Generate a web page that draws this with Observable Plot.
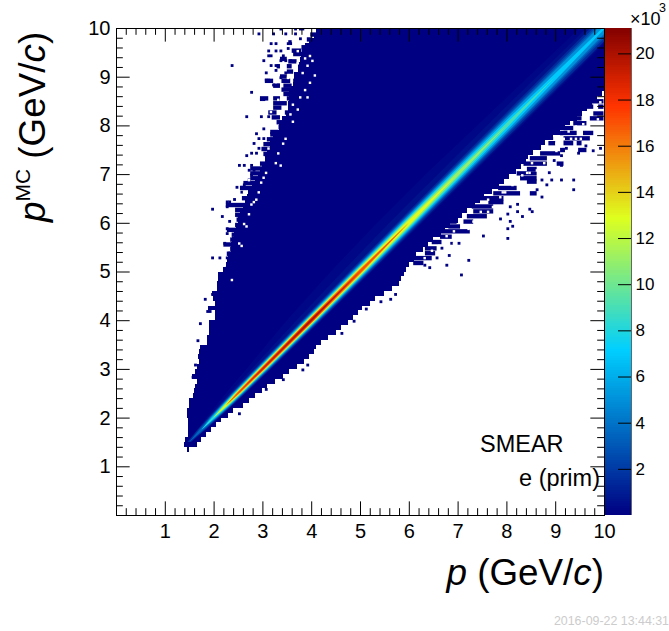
<!DOCTYPE html>
<html>
<head>
<meta charset="utf-8">
<script src="https://cdn.jsdelivr.net/npm/d3@7"></script>
<script src="https://cdn.jsdelivr.net/npm/@observablehq/plot@0.6"></script>
<style>
html,body{margin:0;padding:0;background:#fff}
#page{position:relative;width:669px;height:631px;overflow:hidden;font-family:"Liberation Sans",Arial,sans-serif;color:#000}
#page svg{position:absolute;top:0;background:transparent}
.t{position:absolute;white-space:nowrap;line-height:1}
</style>
</head>
<body>
<div id="page"></div>
<script>
// Populated envelope, one row per 0.1 GeV/c of pMC
const envMC = [1.3,1.4,1.5,1.6,1.7,1.8,1.9,2.0,2.1,2.2,2.3,2.4,2.5,2.6,2.7,2.8,2.9,3.0,3.1,3.2,3.3,3.4,3.5,3.6,3.7,3.8,3.9,4.0,4.1,4.2,4.3,4.4,4.5,4.6,4.7,4.8,4.9,5.0,5.1,5.2,5.3,5.4,5.5,5.6,5.7,5.8,5.9,6.0,6.1,6.2,6.3,6.4,6.5,6.6,6.7,6.8,6.9,7.0,7.1,7.2,7.3,7.4,7.5,7.6,7.7,7.8,7.9,8.0,8.1,8.2,8.3,8.4,8.5,8.6,8.7,8.8,8.9,9.0,9.1,9.2,9.3,9.4,9.5,9.6,9.7,9.8,9.9];
const envLeft = [1.45,1.40,1.42,1.47,1.47,1.47,1.47,1.45,1.45,1.50,1.50,1.58,1.60,1.62,1.65,1.55,1.62,1.65,1.71,1.69,1.70,1.72,1.86,1.87,1.90,1.91,1.91,2.03,2.03,1.89,2.03,1.98,1.96,2.06,2.06,2.10,2.10,2.20,2.25,2.28,2.30,2.35,2.35,2.38,2.42,2.42,2.45,2.50,2.50,2.55,2.60,2.65,2.68,2.70,2.78,2.85,2.90,2.95,3.00,3.05,3.05,3.10,3.15,3.15,3.22,3.28,3.35,3.35,3.40,3.48,3.52,3.52,3.55,3.55,3.58,3.62,3.65,3.65,3.72,3.72,3.78,3.80,3.82,3.88,3.95,4.05,4.10];
const envRight = [1.50,1.65,1.75,1.85,1.95,2.05,2.15,2.30,2.40,2.60,2.72,2.85,3.00,3.10,3.25,3.42,3.55,3.70,3.85,3.95,4.05,4.10,4.20,4.35,4.50,4.62,4.75,4.85,4.95,5.05,5.20,5.30,5.50,5.65,5.80,5.85,5.90,5.95,6.00,6.10,6.15,6.30,6.40,6.50,6.65,6.75,6.85,7.00,7.10,7.20,7.35,7.45,7.55,7.70,7.85,7.95,8.05,8.20,8.30,8.40,8.45,8.55,8.70,8.80,8.95,9.10,9.20,9.30,9.45,9.55,9.65,9.75,9.85,9.95,10,10,10,10,10,10,10,10,10,10,10,10,10];

// Runs of filled bins in the fringe: row pMC, run start p, run end p
const runMC = [9.95,9.95,9.87,9.87,9.82,9.72,9.66,9.66,9.56,9.49,9.49,9.42,9.32,9.32,9.27,9.17,9.17,9.17,9.06,9.06,8.96,8.96,8.87,8.87,8.87,8.77,8.77,8.69,8.6,8.51,8.51,8.51,8.41,8.32,8.32,8.22,8.22,8.12,8.02,7.92,7.82,7.77,7.67,7.57,7.47,7.37,7.27,7.17,7.07,6.97,6.87,6.77,6.67,6.56,6.46,6.32,6.22,6.12,6.02,5.91,5.81,5.71,5.61,5.51,5.42,5.32,5.22,
  8.45,8.34,8.34,8.2,8.1,8.1,8.0,7.9,7.8,7.8,7.69,7.59,7.59,7.59,7.45,7.45,7.38,7.28,7.17,7.17,7.06,6.97,6.87,6.8,6.67,6.56,6.56,6.46,6.38,6.29,6.19,6.09,5.98,5.98,5.88,5.78,5.67,5.56,5.43,5.33,5.23,5.13];
const runFrom = [4.15,4.45,4.11,4.32,3.98,3.91,3.53,3.98,3.8,3.6,3.98,3.63,3.36,3.84,3.53,3.29,3.5,3.84,3.5,3.77,3.36,3.67,3.05,3.39,3.63,3.22,3.43,3.39,3.43,2.95,3.22,3.5,3.22,3.22,3.6,3.12,3.46,3.19,3.29,3.33,3.16,3.16,3.09,3.02,2.98,3.02,3.09,2.95,2.75,2.75,2.75,2.61,2.54,2.78,2.58,2.25,2.44,2.44,2.47,2.44,2.27,2.37,2.34,2.2,2.34,2.27,2.3,
  9.71,9.64,9.88,9.78,9.3,9.71,9.37,9.17,9.1,9.57,9.17,8.86,9.17,9.44,9.1,9.47,8.69,8.48,8.35,9.03,8.42,8.21,8.28,8.42,7.83,7.73,8.48,7.39,7.63,7.29,7.32,7.19,6.74,7.12,6.81,6.64,6.64,6.47,6.33,6.33,6.09,6.09];
const runTo = [4.35,4.62,4.25,4.42,4.11,4.01,3.6,4.25,4.08,3.8,4.18,3.91,3.5,4.04,3.7,3.36,3.6,4.04,3.63,3.91,3.5,3.8,3.22,3.57,3.84,3.36,3.6,3.6,3.7,3.12,3.36,3.63,3.5,3.39,3.74,3.29,3.6,3.36,3.5,3.5,3.33,3.57,3.36,3.26,3.22,3.16,3.26,3.22,3.16,3.09,3.02,2.95,2.81,2.88,2.92,2.88,2.71,2.81,2.61,2.81,2.47,2.71,2.61,2.4,2.61,2.47,2.47,
  9.99,9.78,9.99,9.99,9.54,9.99,9.64,9.37,9.44,9.78,9.71,9.0,9.37,9.54,9.2,9.64,9.1,8.83,8.83,9.17,8.62,8.62,8.62,8.62,8.21,8.28,8.62,7.94,7.94,7.73,7.73,7.6,6.98,7.32,7.05,7.25,6.88,6.67,6.57,6.54,6.47,6.3];

// Isolated filled bins outside the envelope (lower bin edges)
const dotP = [3.35,3.65,3.75,3.8,2.9,3.2,3.45,3.65,3.75,3.15,3.25,3.5,3.55,3.5,3.1,3.25,3.35,3.1,3.15,3.4,3.0,3.35,3.45,3.55,2.35,3.15,3.25,3.25,3.05,3.45,3.35,3.05,3.1,3.2,3.3,2.75,2.95,3.0,2.65,2.95,3.1,3.0,2.85,2.9,3.0,2.8,3.05,2.9,3.0,2.75,2.85,2.65,3.05,2.5,2.6,2.75,2.7,2.8,2.75,2.7,2.6,2.45,2.55,2.55,2.4,2.25,2.3,2.25,1.95,2.15,2.3,2.25,2.25,2.2,2.35,2.3,1.95,2.1,2.25,2.25,1.8,1.7,1.9,1.85,1.65,1.95,2.1,1.55,1.5,1.75,1.6,
  2.5,3.05,3.8,3.9,3.4,4.6,4.85,5.1,5.6,5.7,5.4,8.0,7.5,8.1,8.0,8.05,7.85,8.3,8.2,8.0,8.05,8.2,8.45,8.5,8.7,9.35,8.6,9.35,9.1,8.9,8.8,8.7,8.85,9.9,9.75,9.6,9.45,9.2,9.1,8.95,9.1,7.2,6.75,6.8,7.0,6.85,6.65,6.55,6.4,6.3,7.05,9.5,9.45,9.1,8.9,8.65];
const dotMC = [9.95,9.95,9.95,9.95,9.85,9.85,9.85,9.85,9.75,9.65,9.65,9.65,9.65,9.55,9.5,9.5,9.5,9.4,9.4,9.4,9.3,9.3,9.3,9.3,9.2,9.2,9.2,9.1,9.05,9.05,8.95,8.9,8.9,8.8,8.8,8.65,8.5,8.5,8.15,8.15,8.15,7.9,7.8,7.7,7.7,7.6,7.6,7.5,7.5,7.4,7.4,7.35,7.35,7.15,7.15,7.15,7.05,7.05,6.95,6.85,6.75,6.7,6.7,6.6,6.45,6.4,6.4,6.3,6.25,6.1,6.0,5.85,5.75,5.55,5.45,5.35,5.25,5.25,5.25,5.05,4.4,3.9,4.15,4.15,3.55,4.5,4.6,2.8,2.25,3.35,3.05,
  2.05,2.55,2.95,3.05,2.75,3.7,3.95,4.2,4.4,4.5,4.35,5.65,5.7,5.9,5.85,6.0,6.05,6.1,6.2,6.15,6.3,6.35,6.25,6.2,6.5,6.65,6.65,6.85,6.85,6.85,6.75,6.85,7.0,7.5,7.45,7.55,7.4,7.5,7.35,7.25,7.15,5.2,5.1,5.3,5.55,5.55,5.45,5.25,5.05,5.1,4.9,8.6,8.3,7.8,7.7,7.7];

// Empty bins inside the fringe of the envelope (lower bin edges)
const holeP = [3.85,3.95,4.0,3.7,3.9,4.05,3.8,3.95,3.85,3.9,3.75,3.6,3.7,3.55,3.6,3.45,3.4,3.3,3.25,3.35,3.05,3.0,2.95,2.9,2.85,2.8,2.75,2.7,2.6,2.65,2.55,2.5,2.35,3.7,3.5,3.3,3.15,3.1,2.7,2.6,
  8.2,8.3,8.45,8.1,7.95,7.85,7.7,7.6,7.45,7.3,7.2,7.1,7.0,6.9,6.75,6.6,6.45,6.3,8.6,8.75,8.9,9.0,9.1,9.3,9.45,9.55,9.7,9.8,9.9,9.6,9.4,9.15,9.0,9.4,9.5,9.25,9.85,8.5,8.4,7.6,7.9,6.9];
const holeMC = [9.35,9.4,9.3,9.25,9.2,9.0,9.05,8.85,8.7,8.55,8.55,8.4,8.3,8.2,8.05,7.7,7.6,7.4,7.2,7.15,7.0,6.9,6.8,6.6,6.45,6.4,6.35,6.15,5.95,5.9,5.5,5.55,4.8,9.5,8.95,8.5,8.25,7.5,6.85,6.6,
  6.85,6.95,7.0,6.75,6.6,6.5,6.3,6.2,6.2,6.0,5.85,5.9,5.7,5.8,5.7,5.5,5.4,5.25,7.05,7.2,7.3,7.45,7.55,7.7,7.85,8.0,8.2,8.35,8.45,8.15,7.95,7.7,7.6,7.7,7.7,7.85,8.1,7.2,7.0,6.45,6.6,5.55];

// Ridge along p = pMC: half-width in p of each count level (thousands), per knot
const ridgeU = [1.5,1.75,2,2.25,2.5,3,4,5,6,7,8,9,10];
const tailL02 = [.03,.08,.15,.2,.25,.33,.5,.6,.65,.65,.6,.55,.5];
const tailR02 = [.03,.08,.11,.13,.15,.18,.22,.25,.28,.3,.32,.33,.33];
const tailL05 = [.03,.08,.12,.15,.18,.22,.3,.36,.4,.4,.4,.38,.36];
const tailR05 = [.03,.08,.11,.13,.15,.17,.2,.23,.26,.28,.29,.3,.3];
const hw1  = [.036,.08,.104,.126,.143,.161,.192,.215,.234,.25,.262,.27,.278];
const hw2  = [0,.056,.085,.108,.124,.14,.168,.187,.202,.21,.216,.216,.215];
const hw3  = [0,.036,.073,.096,.112,.127,.152,.168,.179,.184,.184,.176,.168];
const hw4  = [0,0,.062,.086,.102,.116,.14,.154,.162,.162,.157,.142,.122];
const hw6  = [0,0,.042,.071,.086,.1,.121,.131,.133,.126,.109,.07,.03];
const hw8  = [0,0,.018,.056,.073,.086,.107,.112,.108,.091,.052,0,0];
const hw10 = [0,0,0,.043,.062,.074,.092,.094,.084,.049,0,0,0];
const hw12 = [0,0,0,.026,.05,.064,.08,.077,.056,0,0,0,0];
const hw14 = [0,0,0,0,.037,.052,.067,.058,0,0,0,0,0];
const hw16 = [0,0,0,0,.02,.038,.054,.035,0,0,0,0,0];
const hw18 = [0,0,0,0,0,.022,.038,0,0,0,0,0,0];
const hw20 = [0,0,0,0,0,0,.013,0,0,0,0,0,0];

const bandFills = [.25,.6,1.5,2.5,3.5,5,7,9,11,13,15,17,19,20.5];
const bandLeft  = [tailL02,tailL05,hw1,hw2,hw3,hw4,hw6,hw8,hw10,hw12,hw14,hw16,hw18,hw20];
const bandRight = [tailR02,tailR05,hw1,hw2,hw3,hw4,hw6,hw8,hw10,hw12,hw14,hw16,hw18,hw20];

// Axis ticks and palette
const majorTicks = [1,2,3,4,5,6,7,8,9,10];
const minorTicks = [.2,.4,.6,.8,1.2,1.4,1.6,1.8,2.2,2.4,2.6,2.8,3.2,3.4,3.6,3.8,4.2,4.4,4.6,4.8,5.2,5.4,5.6,5.8,6.2,6.4,6.6,6.8,7.2,7.4,7.6,7.8,8.2,8.4,8.6,8.8,9.2,9.4,9.6,9.8];
const zTicks = [2,4,6,8,10,12,14,16,18,20];
const zMax = 21.1;
const paletteStops = [0,7.17,12.87,17.72,21.1];
const paletteColors = ["#000082","#00cfff","#deff1f","#ff3300","#820000"];

const colorScale = {type:"linear",domain:paletteStops,range:paletteColors,interpolate:"rgb",clamp:true};
const baseZ = 0.02, bin = 0.05, dotSize = 0.058, runHeight = 0.09, tickMajor = 0.28, tickMinor = 0.14;
const font = '"Liberation Sans",Arial,sans-serif';

const page = document.getElementById("page");
const dots = dotP.map((p,i)=>({p,mc:dotMC[i]}));
const holes = holeP.map((p,i)=>({p,mc:holeMC[i]}));
const runs = runMC.map((mc,i)=>({mc,from:runFrom[i],to:runTo[i]}));

const tickMarks = (vals,len)=>[
  Plot.ruleX(vals,{x:d=>d,y1:0,y2:len,stroke:"#000",strokeWidth:1}),
  Plot.ruleX(vals,{x:d=>d,y1:10-len,y2:10,stroke:"#000",strokeWidth:1}),
  Plot.ruleY(vals,{y:d=>d,x1:0,x2:len,stroke:"#000",strokeWidth:1}),
  Plot.ruleY(vals,{y:d=>d,x1:10-len,x2:10,stroke:"#000",strokeWidth:1})
];

const main = Plot.plot({
  width:669,height:631,
  marginLeft:116,marginRight:65,marginTop:28,marginBottom:116,
  x:{domain:[0,10],label:null},
  y:{domain:[0,10],label:null},
  color:colorScale,
  style:{fontFamily:font,background:"transparent",overflow:"visible"},
  marks:[
    Plot.rect(envMC,{y1:d=>d,y2:d=>d+0.1,x1:(d,i)=>envLeft[i],x2:(d,i)=>envRight[i],fill:()=>baseZ,shapeRendering:"crispEdges"}),
    Plot.rect(runs,{x1:"from",x2:"to",y1:"mc",y2:d=>d.mc+runHeight,fill:()=>baseZ,clip:true}),
    Plot.rect(dots,{x1:"p",x2:d=>d.p+dotSize,y1:"mc",y2:d=>d.mc+dotSize,fill:()=>baseZ,clip:true}),
    Plot.rect(holes,{x1:"p",x2:d=>d.p+bin,y1:"mc",y2:d=>d.mc+bin,fill:"#fff",clip:true}),
    ...bandFills.map((z,k)=>Plot.areaX(ridgeU,{y:d=>d,x1:(d,i)=>d-bandLeft[k][i],x2:(d,i)=>d+bandRight[k][i],fill:()=>z,clip:true})),
    ...tickMarks(majorTicks,tickMajor),
    ...tickMarks(minorTicks,tickMinor),
    Plot.frame({stroke:"#000",strokeWidth:1}),
    Plot.axisX({ticks:majorTicks,tickSize:0,tickPadding:8,fontSize:20,label:null,tickFormat:d=>d}),
    Plot.axisY({ticks:majorTicks,tickSize:0,tickPadding:6,fontSize:20,label:null,tickFormat:d=>d})
  ]
});
main.style.left="0px";
page.appendChild(main);

const bar = Plot.plot({
  width:64,height:631,
  marginLeft:0,marginRight:38,marginTop:28,marginBottom:116,
  x:{domain:[0,1],axis:null},
  y:{domain:[0,zMax],label:null},
  color:colorScale,
  style:{fontFamily:font,background:"transparent",overflow:"visible"},
  marks:[
    Plot.rect(d3.range(0,zMax,0.1),{x1:0,x2:1,y1:d=>d,y2:d=>Math.min(d+0.11,zMax),fill:d=>d+0.05,shapeRendering:"crispEdges"}),
    Plot.ruleY(zTicks,{y:d=>d,x1:0.5,x2:1,stroke:"#000",strokeWidth:1}),
    Plot.ruleX([1],{stroke:"#666",strokeWidth:1}),
    Plot.axisY({anchor:"right",ticks:zTicks,tickSize:0,tickPadding:4,fontSize:17,label:null,tickFormat:d=>d})
  ]
});
bar.style.left="605px";
page.appendChild(bar);

function label(html,css){
  const el=document.createElement("div");
  el.className="t";el.innerHTML=html;el.style.cssText+=css;page.appendChild(el);
}
label('<i>p</i> (GeV/<i>c</i>)','right:65px;top:555px;font-size:36.8px;');
label('<i>p</i><sup style="font-size:21px;vertical-align:baseline;position:relative;top:-15px">MC</sup> (GeV/<i>c</i>)','left:15px;top:222px;font-size:36.8px;transform-origin:0 0;transform:rotate(-90deg);');
label('SMEAR','left:480px;top:433px;font-size:23.5px;');
label('e (prim)','right:69px;top:467px;font-size:23.5px;');
label('×10','left:630px;top:10px;font-size:18px;');
label('3','left:659px;top:2px;font-size:12.5px;');
label('2016-09-22 13:44:31','right:0px;top:615px;font-size:12.4px;color:#ccc;');
</script>
</body>
</html>
